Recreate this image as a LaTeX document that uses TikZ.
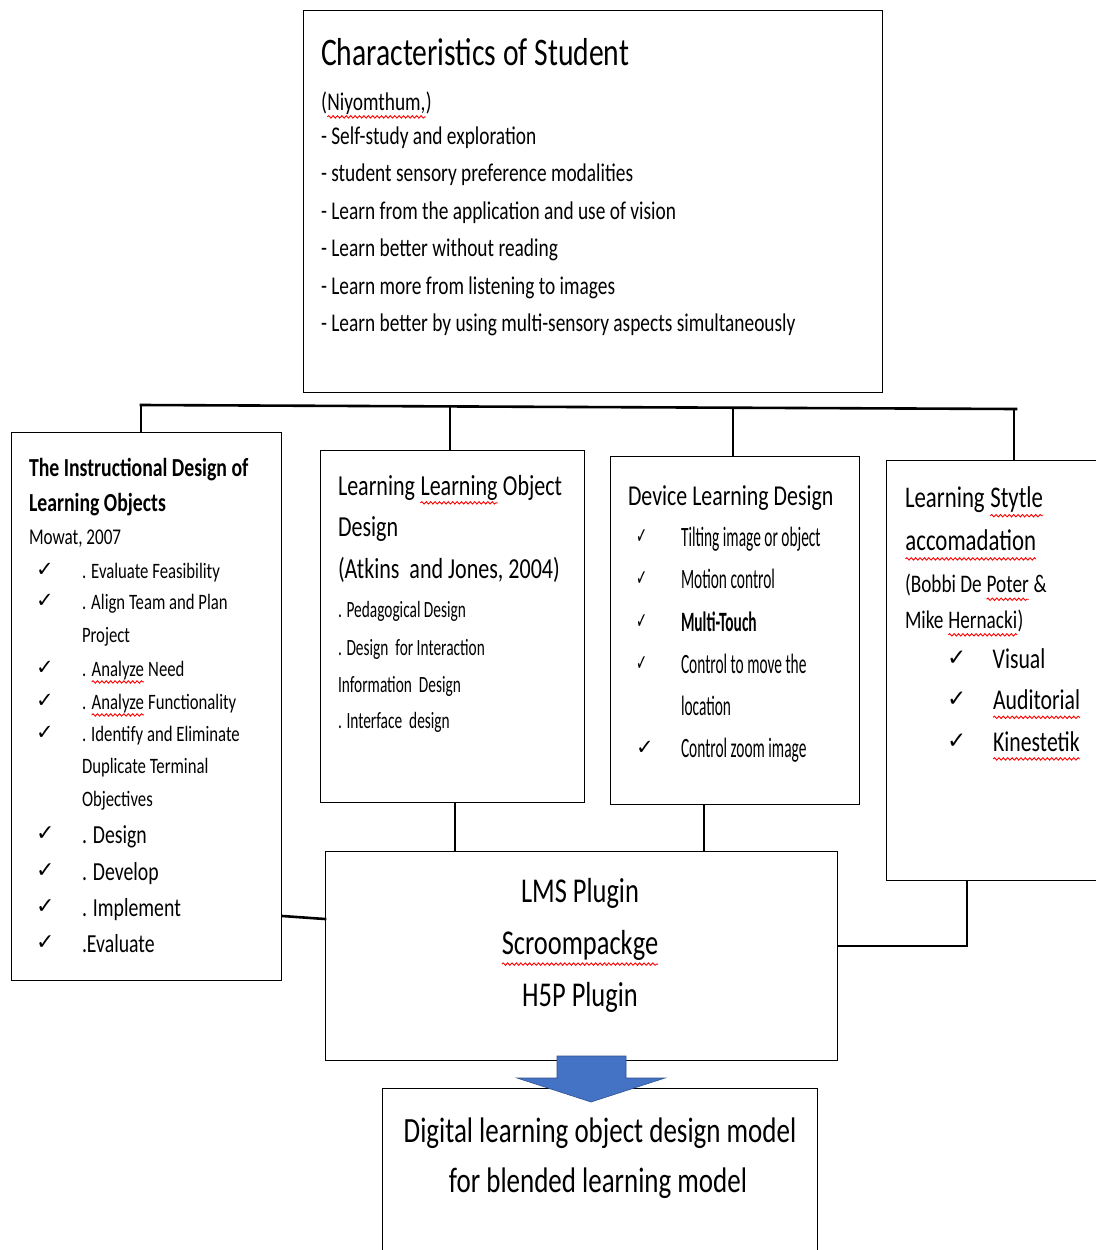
\documentclass[tikz,border=0pt]{standalone}
\usepackage{fontspec}
\setmainfont{Carlito}[FakeStretch=0.76]
\newfontfamily\narA{Carlito}[FakeStretch=0.66]
\newfontfamily\narB{Carlito}[FakeStretch=0.55]
\newfontfamily\symf{DejaVu Sans}
\newfontfamily\symn{DejaVu Sans}[FakeStretch=0.6]
\usetikzlibrary{decorations.pathmorphing}
\definecolor{arrowblue}{HTML}{4472C4}
\definecolor{arrowedge}{HTML}{2F528F}
\newcommand\fs[1]{\fontsize{#1}{#1}\selectfont}
\newcommand\sq[1]{\tikz[baseline=(w.base)]{\node[inner sep=0pt,outer sep=0pt,anchor=base](w){#1};\draw[red,line width=0.9pt,decorate,decoration={snake,amplitude=1.2pt,segment length=4.4pt}]([yshift=-0.27em]w.base west)--([yshift=-0.27em]w.base east);}}
\newcommand\ck[1]{{\symf\fontsize{#1}{#1}\selectfont ✓}}
\newcommand\ckn[1]{{\symn\fontsize{#1}{#1}\selectfont ✓}}
\tikzset{
  boxst/.style={draw=black,line width=1.4pt,rectangle,inner sep=0pt,anchor=north west},
  conn/.style={line width=2.6pt,line cap=rect},
  txt/.style={anchor=base west,inner sep=0pt,outer sep=0pt},
  ctxt/.style={anchor=base,inner sep=0pt,outer sep=0pt},
}
\begin{document}
\begin{tikzpicture}[x=1pt,y=-1pt]
\fill[white] (0,0) rectangle (1095,1250);
\useasboundingbox (0,0) rectangle (1095,1250);

% boxes
\node[boxst,minimum width=579pt,minimum height=382pt] (top) at (303,10) {};
\node[boxst,minimum width=270pt,minimum height=548pt] (b1) at (11,432) {};
\node[boxst,minimum width=264pt,minimum height=352pt] (b2) at (320,450) {};
\node[boxst,minimum width=249pt,minimum height=348pt] (b3) at (610,456) {};
\node[boxst,minimum width=240pt,minimum height=420pt] (b4) at (886,460) {};
\node[boxst,minimum width=512pt,minimum height=209pt] (lms) at (325,851) {};
\node[boxst,minimum width=435pt,minimum height=190pt] (fin) at (382,1088) {};

% connectors
\coordinate (bL) at (141,405);
\coordinate (bR) at (1016,409);
\coordinate (d2) at (450,406.5);
\coordinate (d3) at (733,408);
\coordinate (d4) at (1014,409);
\draw[conn] (bL) -- (bR);
\draw[conn] (bL) -- (bL |- b1.north);
\draw[conn] (d2) -- (d2 |- b2.north);
\draw[conn] (d3) -- (d3 |- b3.north);
\draw[conn] (d4) -- (d4 |- b4.north);
\coordinate (u2) at (455,830);
\coordinate (u3) at (704,830);
\draw[conn] (u2 |- b2.south) -- (u2 |- lms.north);
\draw[conn] (u3 |- b3.south) -- (u3 |- lms.north);
\coordinate (l1) at (281,916);
\coordinate (l2) at (325,919);
\draw[conn] (b1.east |- l1) -- (lms.west |- l2);
\coordinate (r1) at (967,946);
\draw[conn] (lms.east |- r1) -- (r1) -- (r1 |- b4.south);

% block arrow
\filldraw[fill=arrowblue,draw=arrowedge,line width=0.6pt]
  (557,1056) -- (626,1056) -- (626,1078) -- (665,1078) -- (591,1102) -- (517,1078) -- (557,1078) -- cycle;

% top box text
\node[txt,font=\fs{39}] (t0) at (321,65) {Characteristics of Student};
\node[txt,font=\fs{25.5}] (t1) at (321,110) {(\sq{Niyomthum,})};
\node[txt,font=\fs{25.5}] (t2) at (321,144) {- Self-study and exploration};
\node[txt,font=\fs{25.5}] (t3) at (321,181.5) {- student sensory preference modalities};
\node[txt,font=\fs{25.5}] (t4) at (321,219) {- Learn from the application and use of vision};
\node[txt,font=\fs{25.5}] (t5) at (321,256.5) {- Learn better without reading};
\node[txt,font=\fs{25.5}] (t6) at (321,294) {- Learn more from listening to images};
\node[txt,font=\fs{25.5}] (t7) at (321,331.5) {- Learn better by using multi-sensory aspects simultaneously};

% box 1 text
\node[txt,font=\fs{26}\bfseries] (a0) at (29,476) {The Instructional Design of};
\node[txt,font=\fs{26}\bfseries] (a1) at (29,511) {Learning Objects};
\node[txt,font=\fs{22.5}] (a2) at (29,544.5) {Mowat, 2007};
\node[txt] (ac1) at (36,576) {\ck{21}};
\node[txt,font=\fs{22}] (a3) at (82,578) {. Evaluate Feasibility};
\node[txt] (ac2) at (36,607) {\ck{21}};
\node[txt,font=\fs{22}] (a4) at (82,609) {. Align Team and Plan};
\node[txt,font=\fs{22}] (a5) at (82,642) {Project};
\node[txt] (ac3) at (36,674) {\ck{21}};
\node[txt,font=\fs{22}] (a6) at (82,676) {. \sq{Analyze} Need};
\node[txt] (ac4) at (36,707) {\ck{21}};
\node[txt,font=\fs{22}] (a7) at (82,709) {. \sq{Analyze} Functionality};
\node[txt] (ac5) at (36,739) {\ck{21}};
\node[txt,font=\fs{22}] (a8) at (82,741) {. Identify and Eliminate};
\node[txt,font=\fs{22}] (a9) at (82,773) {Duplicate Terminal};
\node[txt,font=\fs{22}] (a10) at (82,806) {Objectives};
\node[txt] (ac6) at (36,840) {\ck{22}};
\node[txt,font=\fs{26}] (a11) at (82,843) {. Design};
\node[txt] (ac7) at (36,877) {\ck{22}};
\node[txt,font=\fs{26}] (a12) at (82,880) {. Develop};
\node[txt] (ac8) at (36,913) {\ck{22}};
\node[txt,font=\fs{26}] (a13) at (82,916) {. Implement};
\node[txt] (ac9) at (36,949) {\ck{22}};
\node[txt,font=\fs{26}] (a14) at (82,952) {.Evaluate};

% box 2 text
\node[txt,font=\fs{29}] (c0) at (338,495) {Learning \sq{Learning} Object};
\node[txt,font=\fs{29}] (c1) at (338,536.7) {Design};
\node[txt,font=\fs{29}] (c2) at (338,578) {(Atkins\ \ and Jones, 2004)};
\node[txt,font=\narA\fs{23.3}] (c3) at (338,617) {. Pedagogical Design};
\node[txt,font=\narA\fs{23.3}] (c4) at (338,655) {. Design\ \ for Interaction};
\node[txt,font=\narA\fs{23.3}] (c5) at (338,692) {Information\ \ Design};
\node[txt,font=\narA\fs{23.3}] (c6) at (338,728) {. Interface\ \ design};

% box 3 text
\node[txt,font=\fs{28.8}] (e0) at (628,505.5) {Device Learning Design};
\node[txt] (ec1) at (636,543) {\ckn{22}};
\node[txt,font=\narB\fs{28}] (e1) at (681,546) {Tilting image or object};
\node[txt] (ec2) at (636,585) {\ckn{22}};
\node[txt,font=\narB\fs{28}] (e2) at (681,588) {Motion control};
\node[txt] (ec3) at (636,628) {\ckn{22}};
\node[txt,font=\narB\fs{28}\bfseries] (e3) at (681,631) {Multi-Touch};
\node[txt] (ec4) at (636,670) {\ckn{22}};
\node[txt,font=\narB\fs{28}] (e4) at (681,673) {Control to move the};
\node[txt,font=\narB\fs{28}] (e5) at (681,715.5) {location};
\node[txt] (ec5) at (636,754) {\ck{21}};
\node[txt,font=\narB\fs{28}] (e6) at (681,757.6) {Control zoom image};

% box 4 text
\node[txt,font=\fs{30}] (g0) at (905,507.6) {Learning \sq{Stytle}};
\node[txt,font=\fs{30}] (g1) at (905,550.8) {\sq{accomadation}};
\node[txt,font=\fs{25.3}] (g2) at (905,592.4) {(Bobbi De \sq{Poter} \&};
\node[txt,font=\fs{25.3}] (g3) at (905,628) {Mike \sq{Hernacki})};
\node[txt] (gc1) at (947,665) {\ck{23}};
\node[txt,font=\fs{28.6}] (g4) at (992.7,668) {Visual};
\node[txt] (gc2) at (947,706.6) {\ck{23}};
\node[txt,font=\fs{28.6}] (g5) at (992.7,709.6) {\sq{Auditorial}};
\node[txt] (gc3) at (947,748.2) {\ck{23}};
\node[txt,font=\fs{28.6}] (g6) at (992.7,751.2) {\sq{Kinestetik}};

% LMS box text
\node[ctxt,font=\fs{34.8}] (m0) at (580,902.8) {LMS Plugin};
\node[ctxt,font=\fs{34.8}] (m1) at (580,954.7) {\sq{Scroompackge}};
\node[ctxt,font=\fs{34.8}] (m2) at (580,1006.5) {H5P Plugin};

% final box text
\node[ctxt,font=\fs{35.5}] (f0) at (600,1142) {Digital learning object design model};
\node[ctxt,font=\fs{35.5}] (f1) at (598,1192) {for blended learning model};
\end{tikzpicture}
\end{document}
